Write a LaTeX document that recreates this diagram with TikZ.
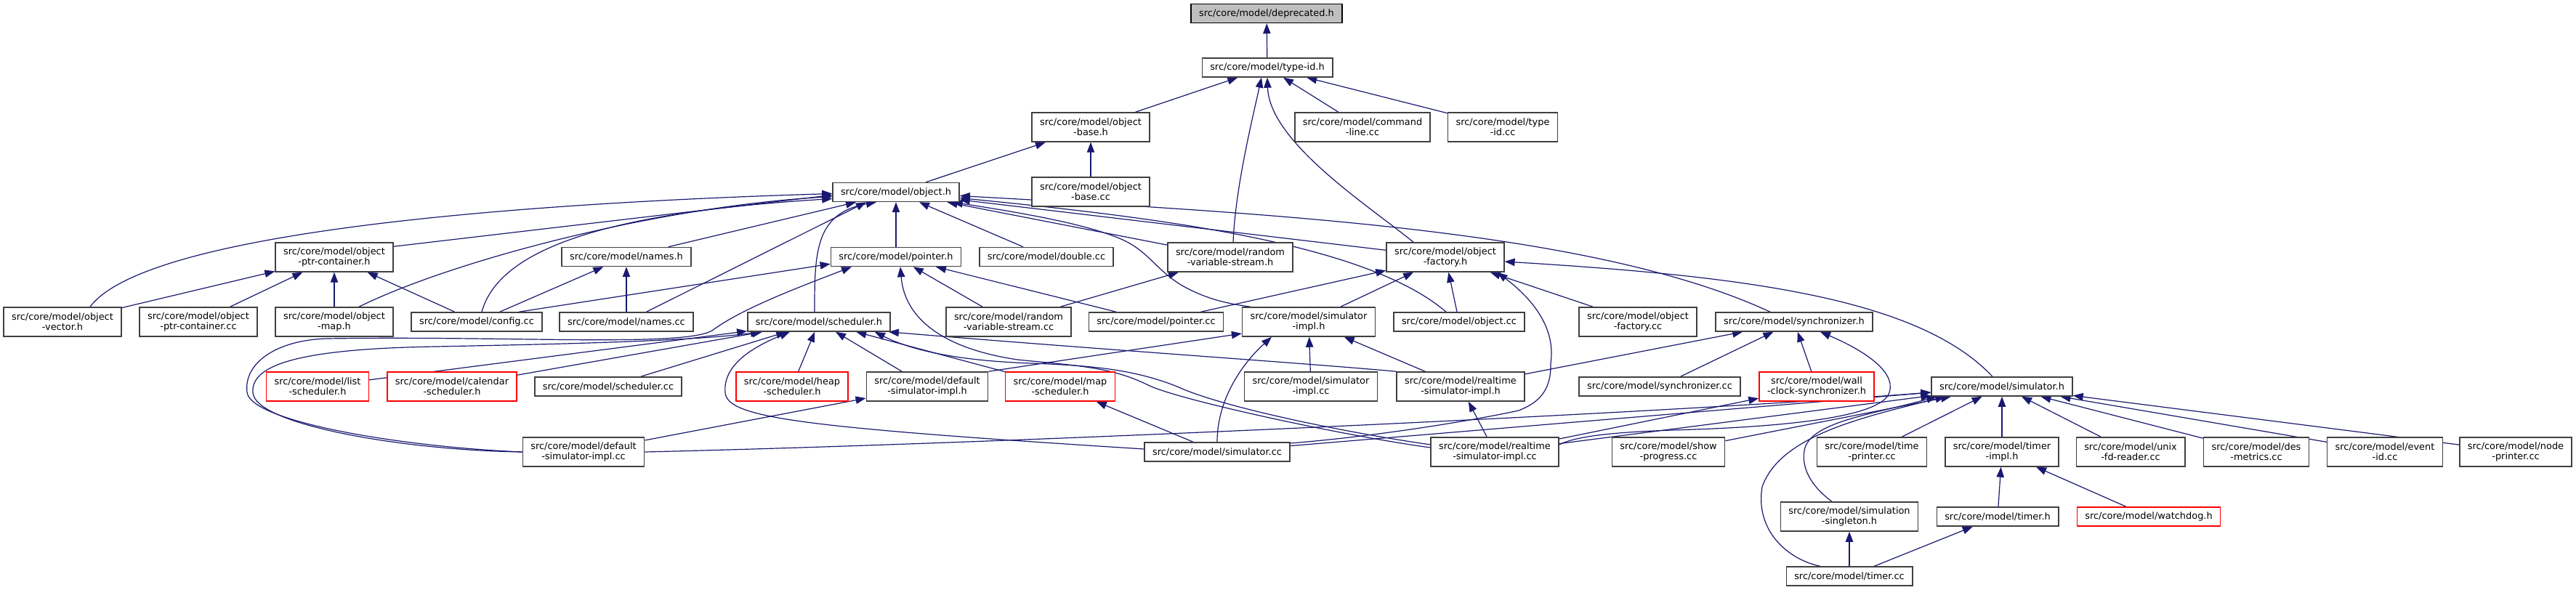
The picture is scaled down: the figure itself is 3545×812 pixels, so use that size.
\documentclass[tikz,border=0pt]{standalone}
\usepackage{fontspec}
\usepackage{tikz}
\usetikzlibrary{arrows.meta,backgrounds}
\newfontfamily\dejavu{DejaVu Sans}
\newcommand{\graphfont}{\dejavu\fontsize{6.45pt}{7.15pt}\selectfont}
\definecolor{midnight}{HTML}{191970}

\begin{document}
\begin{tikzpicture}[
  x=0.5pt, y=-0.5pt,
  box/.style={draw=black!75,line width=0.75pt,fill=white,align=center,font=\graphfont,inner xsep=5.5pt,inner ysep=1pt,minimum height=13pt},
  tall/.style={box,minimum height=20pt},
  trunc/.style={draw=red},
  rootbox/.style={box,draw=black,fill=black!25},
  dep/.style={{Triangle[length=7pt,width=5.2pt]}-,draw=midnight,line width=0.6pt}
]
\useasboundingbox (0,0) rectangle (3545,812);

\node[rootbox] (deprec) at (1743,18.5) {src/core/model/deprecated.h};
\node[box] (typeid) at (1744,93) {src/core/model/type-id.h};

\node[tall] (objbase) at (1501,175) {src/core/model/object\\-base.h};
\node[tall] (cmdline) at (1875,175) {src/core/model/command\\-line.cc};
\node[tall] (typeidcc) at (2068,175) {src/core/model/type\\-id.cc};

\node[box] (object) at (1233,264.5) {src/core/model/object.h};
\node[tall] (objbasecc) at (1501,264) {src/core/model/object\\-base.cc};

\node[tall] (ptrcont) at (460,354) {src/core/model/object\\-ptr-container.h};
\node[box] (names) at (862,353.5) {src/core/model/names.h};
\node[box] (pointer) at (1233,353.5) {src/core/model/pointer.h};
\node[box] (dbl) at (1440,353.5) {src/core/model/double.cc};
\node[tall] (rvs) at (1693,354) {src/core/model/random\\-variable-stream.h};
\node[tall] (objfact) at (1989,354) {src/core/model/object\\-factory.h};

\node[tall] (objvec) at (86,443) {src/core/model/object\\-vector.h};
\node[tall] (ptrcontcc) at (273,443) {src/core/model/object\\-ptr-container.cc};
\node[tall] (objmap) at (460,443) {src/core/model/object\\-map.h};
\node[box] (config) at (656,443) {src/core/model/config.cc};
\node[box] (namescc) at (862,443) {src/core/model/names.cc};
\node[box] (sched) at (1127,443) {src/core/model/scheduler.h};
\node[tall] (rvscc) at (1388,443) {src/core/model/random\\-variable-stream.cc};
\node[box] (pointercc) at (1591,443) {src/core/model/pointer.cc};
\node[tall] (simimpl) at (1801,443) {src/core/model/simulator\\-impl.h};
\node[box] (objectcc) at (2008,443) {src/core/model/object.cc};
\node[tall] (objfactcc) at (2254,443) {src/core/model/object\\-factory.cc};
\node[box] (sync) at (2469,443) {src/core/model/synchronizer.h};

\node[tall,trunc] (listsch) at (437,532) {src/core/model/list\\-scheduler.h};
\node[tall,trunc] (calsch) at (622,532) {src/core/model/calendar\\-scheduler.h};
\node[box] (schedcc) at (837,532) {src/core/model/scheduler.cc};
\node[tall,trunc] (heapsch) at (1090,532) {src/core/model/heap\\-scheduler.h};
\node[tall] (defsim) at (1276,532) {src/core/model/default\\-simulator-impl.h};
\node[tall,trunc] (mapsch) at (1459,532) {src/core/model/map\\-scheduler.h};
\node[tall] (simimplcc) at (1804,532) {src/core/model/simulator\\-impl.cc};
\node[tall] (rtsim) at (2010,532) {src/core/model/realtime\\-simulator-impl.h};
\node[box] (syncc) at (2284,532) {src/core/model/synchronizer.cc};
\node[tall,trunc] (wallclock) at (2500,532) {src/core/model/wall\\-clock-synchronizer.h};
\node[box] (simh) at (2755,532) {src/core/model/simulator.h};

\node[tall] (defsimcc) at (803,622) {src/core/model/default\\-simulator-impl.cc};
\node[box] (simcc) at (1675,622) {src/core/model/simulator.cc};
\node[tall] (rtsimcc) at (2057,622) {src/core/model/realtime\\-simulator-impl.cc};
\node[tall] (showprog) at (2296,622) {src/core/model/show\\-progress.cc};
\node[tall] (timeprint) at (2576,622) {src/core/model/time\\-printer.cc};
\node[tall] (timerimpl) at (2755,622) {src/core/model/timer\\-impl.h};
\node[tall] (unixfd) at (2932,622) {src/core/model/unix\\-fd-reader.cc};
\node[tall] (desmet) at (3105,622) {src/core/model/des\\-metrics.cc};
\node[tall] (eventid) at (3282,622) {src/core/model/event\\-id.cc};
\node[tall] (nodeprint) at (3462,622) {src/core/model/node\\-printer.cc};

\node[tall] (simsingle) at (2545,711) {src/core/model/simulation\\-singleton.h};
\node[box] (timerh) at (2749,711) {src/core/model/timer.h};
\node[box,trunc] (watchdog) at (2957,711) {src/core/model/watchdog.h};
\node[box] (timercc) at (2545,793) {src/core/model/timer.cc};

\begin{scope}[on background layer]
\fill[white] (0,0) rectangle (3545,812);

% type-id.h and object-base.h
\draw[dep] (deprec) -- (typeid);
\draw[dep] (typeid) -- (objbase);
\draw[dep] ([xshift=-4pt]typeid.south) .. controls (1722,170) and (1700,260) .. ([xshift=2pt]rvs.north);
\draw[dep] (typeid.south) .. controls (1747,196) and (1885,284) .. ([xshift=-22pt]objfact.north);
\draw[dep] (typeid) -- (cmdline);
\draw[dep] (typeid) -- (typeidcc);
\draw[dep] (objbase) -- (object);
\draw[dep] (objbase) -- (objbasecc);

% object.h
\draw[dep] ([yshift=-1pt]object.west) .. controls (700,280) and (200,320) .. ([xshift=19pt]objvec.north);
\draw[dep] ([yshift=-2pt]object.west) -- ([yshift=-3pt]ptrcont.north east);
\draw[dep] ([yshift=-3pt]object.west) .. controls (900,285) and (620,360) .. ([xshift=17pt]objmap.north);
\draw[dep] ([yshift=-4.5pt]object.west) .. controls (880,290) and (690,330) .. ([xshift=3.5pt]config.north);
\draw[dep] ([xshift=-27.5pt]object.south) -- (names);
\draw[dep] ([xshift=-20.5pt]object.south) -- (namescc);
\draw[dep] ([xshift=-13.5pt]object.south) .. controls +(-85,15) and +(0,-80) .. ([xshift=-3pt]sched.north);
\draw[dep] (object) -- (pointer);
\draw[dep] (object) -- (dbl);
\draw[dep] (object) -- (rvs);
\draw[dep] (object) -- (objfact);
\draw[dep] ([xshift=-5pt]object.south east) .. controls (1420,295) and (1500,310) .. (1545,330)
  .. controls (1580,346) and (1590,370) .. (1625,392) .. controls (1660,412) and (1690,418) .. ([xshift=-40pt]simimpl.north);
\draw[dep] ([yshift=-4pt]object.east) .. controls (1600,300) and (1880,335) .. ([xshift=-9pt]objectcc.north);
\draw[dep] ([yshift=-2.5pt]object.east) .. controls (1780,295) and (2200,320) .. ([xshift=-16.5pt]sync.north);

\draw[dep] (ptrcont) -- (objvec);
\draw[dep] (ptrcont) -- (ptrcontcc);
\draw[dep] (ptrcont) -- (objmap);
\draw[dep] (ptrcont) -- (config);
\draw[dep] (names) -- (config);
\draw[dep] (names) -- (namescc);

% pointer.h
\draw[dep] ([yshift=2pt]pointer.south west) -- ([xshift=29pt]config.north);
\draw[dep] ([xshift=-30.5pt]pointer.south) .. controls (1100,395) and (1020,425) .. (980,455)
  .. controls (940,478) and (700,462) .. (450,466) .. controls (380,468) and (335,500) .. (340,540)
  .. controls (345,580) and (550,615) .. (defsimcc.west);
\draw[dep] (pointer) -- (rvscc);
\draw[dep] (pointer) -- (pointercc);
\draw[dep] ([xshift=3pt]pointer.south) .. controls (1245,440) and (1300,480) .. (1400,495)
  .. controls (1480,503) and (1530,505) .. (1580,530) .. controls (1620,550) and (1850,600) .. ([yshift=3pt]rtsimcc.west);
\draw[dep] (rvs) -- (rvscc);

% object-factory.h
\draw[dep] (objfact) -- (pointercc);
\draw[dep] (objfact) -- (simimpl);
\draw[dep] (objfact) -- (objectcc);
\draw[dep] (objfact) -- (objfactcc);
\draw[dep] ([xshift=-5pt]objfact.south east) .. controls (2120,420) and (2140,460) .. (2134,500)
  .. controls (2135,540) and (2115,555) .. (2090,565) .. controls (2030,578) and (1900,600) .. ([yshift=6pt]simcc.east);
\draw[dep] ([yshift=-3pt]objfact.east) .. controls (2400,380) and (2640,410) .. ([xshift=-6.5pt]simh.north);

% scheduler.h
\draw[dep] (sched) -- (listsch);
\draw[dep] (sched) -- (calsch);
\draw[dep] (sched) -- (schedcc);
\draw[dep] (sched) -- (heapsch);
\draw[dep] (sched) -- (defsim);
\draw[dep] (sched) -- (mapsch);
\draw[dep] ([xshift=-40pt]sched.south) .. controls (950,470) and (750,474) .. (600,477)
  .. controls (420,480) and (345,500) .. (348,540) .. controls (350,585) and (560,620) .. (defsimcc.west);
\draw[dep] ([xshift=-20pt]sched.south) .. controls (1030,480) and (995,505) .. (998,540)
  .. controls (1000,575) and (1100,588) .. ([yshift=2pt]simcc.west);
\draw[dep] ([xshift=-1.5pt]sched.south east) .. controls (1500,480) and (1800,500) .. (rtsim.north west);
\draw[dep] ([xshift=-11pt]sched.south east) .. controls (1260,485) and (1330,497) .. (1420,500)
  .. controls (1500,503) and (1560,508) .. (1620,532) .. controls (1680,560) and (1850,595) .. ([yshift=5pt]rtsimcc.west);

% simulator-impl.h and synchronizer.h
\draw[dep] ([yshift=-8pt]simimpl.west) -- (defsim.north east);
\draw[dep] ([xshift=-25.5pt]simimpl.south) .. controls (1710,500) and (1675,549) .. (simcc.north);
\draw[dep] (simimpl) -- (simimplcc);
\draw[dep] (simimpl) -- (rtsim);
\draw[dep] (sync) -- (rtsim);
\draw[dep] (sync) -- (syncc);
\draw[dep] (sync) -- (wallclock);
\draw[dep] ([xshift=18pt]sync.south) .. controls (2560,480) and (2610,510) .. (2600,540)
  .. controls (2590,575) and (2450,588) .. (2300,592) .. controls (2220,595) and (2170,600) .. ([yshift=5pt]rtsimcc.east);

\draw[dep] (defsim) -- (defsimcc);
\draw[dep] (mapsch) -- (simcc);
\draw[dep] (rtsim) -- (rtsimcc);
\draw[dep] (wallclock) -- (rtsimcc);

% simulator.h
\draw[dep] ([yshift=-4pt]simh.west) .. controls (2300,568) and (1400,610) .. (defsimcc.east);
\draw[dep] (simh) -- (simcc);
\draw[dep] (simh) -- (rtsimcc);
\draw[dep] (simh) -- (showprog);
\draw[dep] (simh) -- (timeprint);
\draw[dep] (simh) -- (timerimpl);
\draw[dep] (simh) -- (unixfd);
\draw[dep] (simh) -- (desmet);
\draw[dep] (simh) -- (eventid);
\draw[dep] (simh) -- (nodeprint);
\draw[dep] ([xshift=4pt]simh.south west) .. controls (2580,570) and (2490,580) .. (2483,620)
  .. controls (2478,650) and (2500,675) .. ([xshift=-12pt]simsingle.north);
\draw[dep] ([xshift=10pt]simh.south west) .. controls (2560,575) and (2450,600) .. (2425,670)
  .. controls (2415,730) and (2460,770) .. ([xshift=-20pt]timercc.north);

\draw[dep] (timerimpl) -- (timerh);
\draw[dep] (timerimpl) -- (watchdog);
\draw[dep] (timerh) -- (timercc);
\draw[dep] (simsingle) -- (timercc);
\end{scope}
\end{tikzpicture}
\end{document}
